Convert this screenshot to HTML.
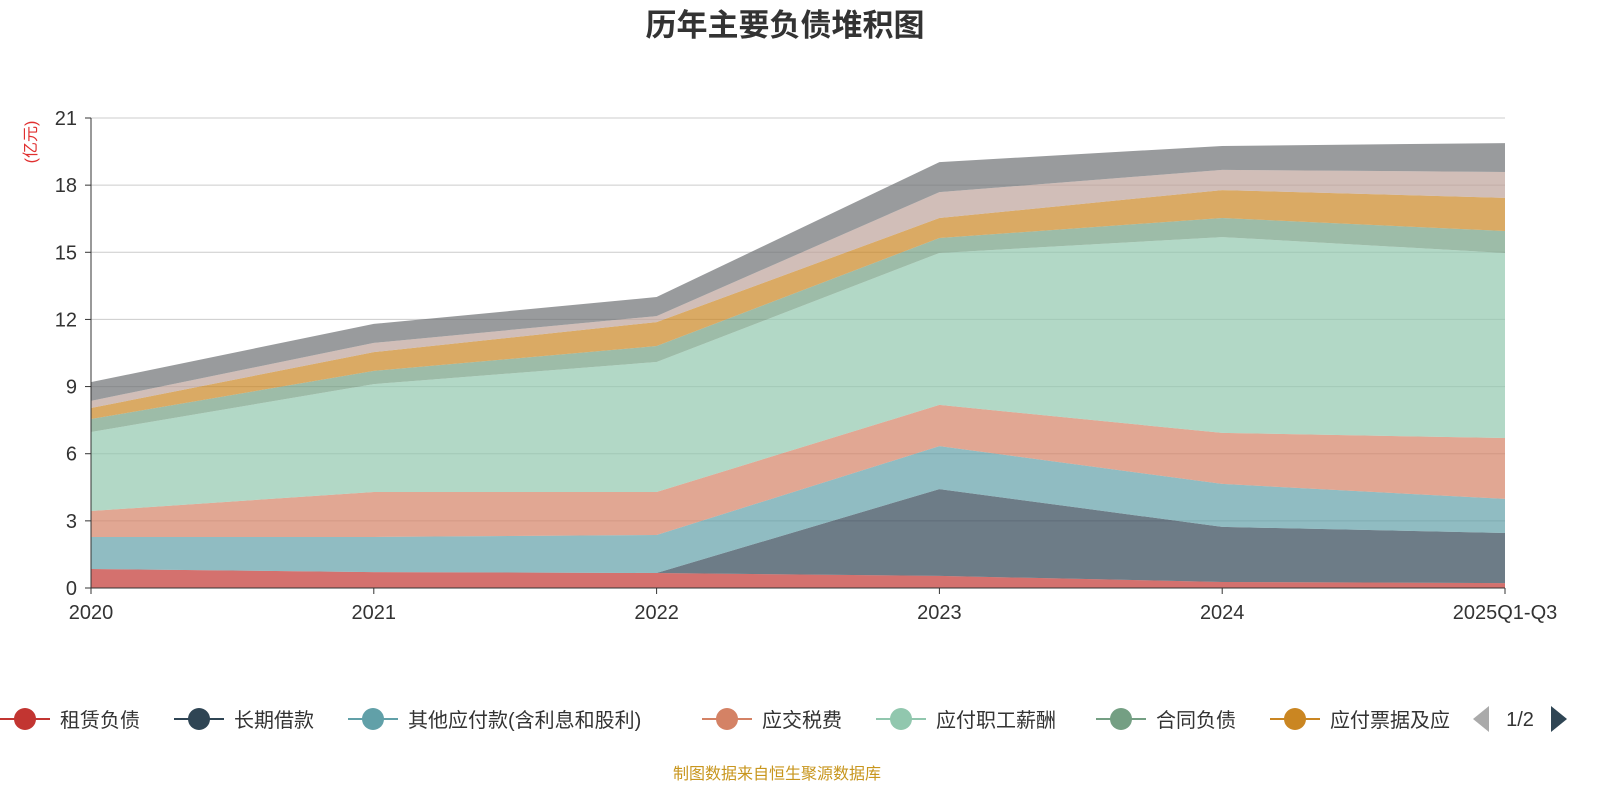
<!DOCTYPE html>
<html><head><meta charset="utf-8"><style>
body{margin:0;background:#fff;width:1600px;height:800px;overflow:hidden;font-family:"Liberation Sans","Noto Sans CJK SC",sans-serif}
</style></head><body>
<svg id="c" width="1600" height="800" xmlns="http://www.w3.org/2000/svg"></svg>
<script>
const categories=["2020","2021","2022","2023","2024","2025Q1-Q3"];
const seriesNames=["租赁负债","长期借款","其他应付款(含利息和股利)","应交税费","应付职工薪酬","合同负债","应付票据及应付账款","其他","其他负债"];
const s1=[0.85,0.71,0.67,0.54,0.27,0.22];
const s2=[0,0,0,3.88,2.46,2.24];
const s3=[1.43,1.57,1.70,1.92,1.92,1.52];
const s4=[1.16,2.01,1.92,1.84,2.28,2.72];
const s5=[3.53,4.82,5.81,6.79,8.75,8.27];
const s6=[0.58,0.59,0.71,0.67,0.85,0.98];
const s7=[0.49,0.84,1.07,0.89,1.25,1.48];
const s8=[0.32,0.41,0.27,1.16,0.90,1.16];
const s9=[0.84,0.85,0.85,1.34,1.07,1.29];
const yTicks=[0,3,6,9,12,15,18,21];
const colors=["#c23531","#2f4554","#61a0a8","#d48265","#91c7ae","#749f83","#ca8622","#bda29a","#6e7074"];
const NS="http://www.w3.org/2000/svg";
const svg=document.getElementById('c');
const X0=91,X1=1505,Y0=588,Y1=118,YMAX=21;
const xp=i=>X0+(X1-X0)*i/(categories.length-1);
const yp=v=>Y0-(Y0-Y1)*v/YMAX;
function el(t,a,txt){const e=document.createElementNS(NS,t);for(const k in a)e.setAttribute(k,a[k]);if(txt!==undefined)e.textContent=txt;svg.appendChild(e);return e;}
let t=el('text',{x:785,y:36,'text-anchor':'middle','font-size':31,'font-weight':'bold',fill:'#333'},'历年主要负债堆积图');


yTicks.forEach(v=>{
 if(v>0){const g=el('line',{x1:X0,x2:X1,y1:yp(v),y2:yp(v),stroke:'#ccc','stroke-width':1});
 
 }
 const tl=el('text',{x:X0-14,y:yp(v)+7,'text-anchor':'end','font-size':20,fill:'#333'},String(v));
 
 
 el('line',{x1:X0-6,x2:X0,y1:yp(v),y2:yp(v),stroke:'#333'});
});
const yt=el('text',{transform:'translate(36,142) rotate(-90)','text-anchor':'middle','font-size':16,fill:'#e03030'},'(亿元)');


const all=[s1,s2,s3,s4,s5,s6,s7,s8,s9];
let base=categories.map(()=>0);
all.forEach((s,k)=>{
 const top=base.map((b,i)=>b+s[i]);
 let d='M'+top.map((v,i)=>xp(i)+','+yp(v)).join('L');
 for(let i=categories.length-1;i>=0;i--)d+='L'+xp(i)+','+yp(base[i]);
 const p=el('path',{d:d+'Z',fill:colors[k],'fill-opacity':0.7});
 
 
 base=top;
});
el('line',{x1:X0,x2:X0,y1:Y1,y2:Y0,stroke:'#333'});
el('line',{x1:X0,x2:X1,y1:Y0,y2:Y0,stroke:'#333'});
categories.forEach((c,i)=>{
 el('line',{x1:xp(i),x2:xp(i),y1:Y0,y2:Y0+6,stroke:'#333'});
 const xl=el('text',{x:xp(i),y:619,'text-anchor':'middle','font-size':20,fill:'#333'},c);
 
 
});
const legX=[0,174,348,702,876,1096,1270];
legX.forEach((x,k)=>{
 el('line',{x1:x,x2:x+50,y1:719,y2:719,stroke:colors[k],'stroke-width':2});
 el('circle',{cx:x+25,cy:719,r:11,fill:colors[k]});
 const lt=el('text',{x:x+60,y:727,'font-size':20,fill:'#333'},k==6?'应付票据及应':seriesNames[k]);
 
 
});
el('rect',{x:1456,y:700,width:144,height:40,fill:'#fff'});
const pl=el('path',{d:'M1489,706L1473,719L1489,732Z',fill:'#aaa'});


const pg=el('text',{x:1520,y:726,'text-anchor':'middle','font-size':20,fill:'#333'},'1/2');


const pn=el('path',{d:'M1551,706L1567,719L1551,732Z',fill:'#2f4554'});


const ft=el('text',{x:777,y:779,'text-anchor':'middle','font-size':16,fill:'#c8961e'},'制图数据来自恒生聚源数据库');


</script>
</body></html>
